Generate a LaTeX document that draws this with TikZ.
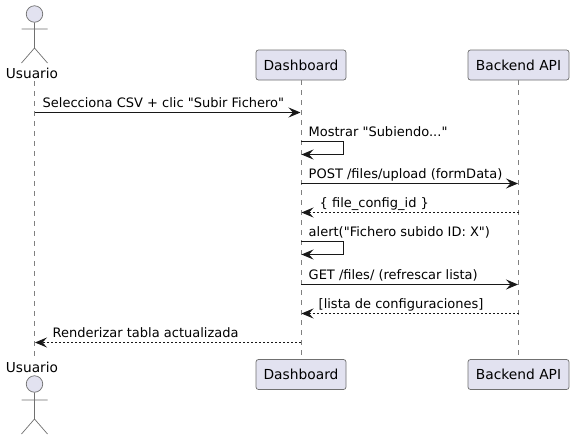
\documentclass[tikz,border=0pt]{standalone}
\usepackage{fontspec}
\newfontfamily\plainfont{DejaVu Sans}
\usetikzlibrary{arrows.meta}
\definecolor{partfill}{HTML}{E2E2F0}
\definecolor{partline}{HTML}{181818}
\definecolor{msgcol}{HTML}{181818}
\tikzset{
  x=1pt,y=-1pt,
  participant/.style={draw=partline!62,fill=partfill,line width=.7pt,rounded corners=2.5pt,minimum height=30pt,inner sep=0pt,font=\plainfont\fontsize{13.8}{16}\selectfont,text=black,anchor=center},
  lifeline/.style={draw=partline!55,line width=.55pt,dash pattern=on 5pt off 5pt},
  msg/.style={draw=msgcol,line width=.85pt,-{Stealth[length=12pt,width=10pt,inset=4.5pt,color=msgcol]},shorten >=.5pt},
  reply/.style={msg,dash pattern=on 2pt off 2pt},
  selfmsg/.style={msg,rounded corners=0pt},
  msglabel/.style={font=\plainfont\fontsize{13}{15}\selectfont,text=black,anchor=base west,inner sep=0pt},
  actorline/.style={draw=partline!62,line width=.7pt},
  actorname/.style={font=\plainfont\fontsize{13.7}{16}\selectfont,text=black,inner sep=0pt,anchor=center},
  actorhead/.style={circle,draw=partline!62,fill=partfill,line width=.7pt,minimum size=16.5pt,inner sep=0pt}
}
\begin{document}
\begin{tikzpicture}
\useasboundingbox[fill=white] (0,0) rectangle (574,440);
% participants
\node[participant,minimum width=90pt] (dashT) at (301,65) {Dashboard};
\node[participant,minimum width=101pt] (apiT) at (518.5,65) {Backend API};
\node[participant,minimum width=90pt] (dashB) at (301,374.5) {Dashboard};
\node[participant,minimum width=101pt] (apiB) at (518.5,374.5) {Backend API};
% actors
\node[actorhead] (headT) at (34.5,14) {};
\coordinate (hipT) at (34.5,48);
\coordinate (armLT) at (21.5,29);
\coordinate (armRT) at (47.5,29);
\coordinate (legLT) at (21.5,63);
\coordinate (legRT) at (47.5,63);
\draw[actorline] (headT.south) -- (hipT) (armLT) -- (armRT) (legLT) -- (hipT) -- (legRT);
\node[actorname] (userT) at (32,73) {Usuario};
\node[actorname] (userB) at (32,367) {Usuario};
\node[actorhead] (headB) at (34.5,384) {};
\coordinate (hipB) at (34.5,419);
\coordinate (armLB) at (21.5,400);
\coordinate (armRB) at (47.5,400);
\coordinate (legLB) at (21.5,434);
\coordinate (legRB) at (47.5,434);
\draw[actorline] (headB.south) -- (hipB) (armLB) -- (armRB) (legLB) -- (hipB) -- (legRB);
% lifelines
\coordinate (uTop) at (34.5,81);
\coordinate (uBot) at (34.5,358);
\draw[lifeline] (uTop) -- (uBot);
\draw[lifeline] (dashT.south) -- (dashB.north);
\draw[lifeline] (apiT.south) -- (apiB.north);
% messages
\path (uTop |- 0,112.5) coordinate (u1) (dashT |- 0,112.5) coordinate (d1);
\draw[msg] (u1) -- (d1);
\node[msglabel] (m1) at (42.5,107) {Selecciona CSV + clic "Subir Fichero"};
\path (dashT |- 0,141.5) coordinate (d2a) (343.5,141.5) coordinate (d2b) (343.5,154.5) coordinate (d2c) (dashT |- 0,154.5) coordinate (d2d);
\draw[selfmsg] (d2a) -- (d2b) -- (d2c) -- (d2d);
\node[msglabel] (m2) at (308.5,136) {Mostrar "Subiendo..."};
\path (dashT |- 0,183.5) coordinate (d3) (apiT |- 0,183.5) coordinate (a3);
\draw[msg] (d3) -- (a3);
\node[msglabel] (m3) at (308.5,178) {POST /files/upload (formData)};
\path (apiT |- 0,212.5) coordinate (a4) (dashT |- 0,212.5) coordinate (d4);
\draw[reply] (a4) -- (d4);
\node[msglabel] (m4) at (319.5,207) {\{ file\_config\_id \}};
\path (dashT |- 0,241.5) coordinate (d5a) (343.5,241.5) coordinate (d5b) (343.5,254.5) coordinate (d5c) (dashT |- 0,254.5) coordinate (d5d);
\draw[selfmsg] (d5a) -- (d5b) -- (d5c) -- (d5d);
\node[msglabel] (m5) at (308.5,236) {alert("Fichero subido ID: X")};
\path (dashT |- 0,284.5) coordinate (d6) (apiT |- 0,284.5) coordinate (a6);
\draw[msg] (d6) -- (a6);
\node[msglabel] (m6) at (308.5,279) {GET /files/ (refrescar lista)};
\path (apiT |- 0,313.5) coordinate (a7) (dashT |- 0,313.5) coordinate (d7);
\draw[reply] (a7) -- (d7);
\node[msglabel] (m7) at (318.5,308) {[lista de configuraciones]};
\path (dashT |- 0,342.5) coordinate (d8) (uTop |- 0,342.5) coordinate (u8);
\draw[reply] (d8) -- (u8);
\node[msglabel] (m8) at (52.5,337) {Renderizar tabla actualizada};
\end{tikzpicture}
\end{document}
